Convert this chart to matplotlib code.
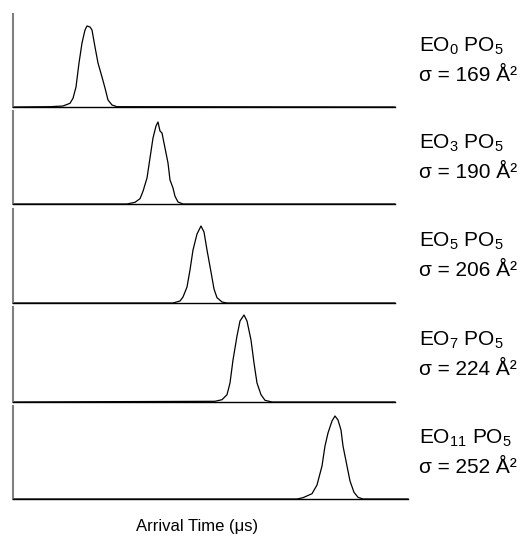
# Stacked arrival time distributions, EOn PO5 series

import matplotlib.pyplot as plt

plt.rcParams['font.family'] = ['Liberation Sans', 'DejaVu Sans']
plt.rcParams['mathtext.fontset'] = 'custom'
plt.rcParams['mathtext.rm'] = 'Liberation Sans'

# labels
names = ['EO$_{0}$ PO$_{5}$', 'EO$_{3}$ PO$_{5}$', 'EO$_{5}$ PO$_{5}$',
         'EO$_{7}$ PO$_{5}$', 'EO$_{11}$ PO$_{5}$']
sigmas = [169, 190, 206, 224, 252]

# arrival time (arbitrary units) and intensity
t1 = [13, 50, 63, 70, 73, 76, 79, 82, 85, 87, 90, 92, 95, 98, 102, 105, 108, 112, 117, 395]
i1 = [0, 0.3, 1.0, 3.7, 8.7, 20, 44, 64, 77, 81, 80, 77, 60, 44, 30, 19, 7, 2, 0.3, 0]

t2 = [13, 127, 135, 140, 143, 147, 150, 153, 156, 158, 160, 162, 165, 168, 170, 173, 175, 178, 183, 395]
i2 = [0, 0, 1.7, 5.3, 12.7, 26, 46, 66, 78, 82, 73, 71, 56, 41, 24, 16, 7.7, 2, 0, 0]

t3 = [13, 173, 180, 183, 187, 190, 193, 197, 201, 204, 207, 211, 214, 217, 222, 227, 395]
i3 = [0, 0, 2, 6, 16, 33, 53, 69, 77, 71, 53, 31, 14, 5.3, 1, 0, 0]

t4 = [13, 215, 222, 227, 230, 233, 237, 240, 244, 247, 251, 254, 257, 261, 265, 272, 395]
i4 = [0, 0.7, 2.3, 7.3, 19, 42, 66, 81, 87, 81, 62, 39, 19, 7.3, 1.7, 0, 0]

t5 = [13, 297, 303, 312, 317, 322, 325, 328, 332, 335, 338, 341, 343, 347, 350, 354, 358, 363, 408]
i5 = [0, 0, 1.3, 5.3, 14, 33, 53, 66, 78, 83, 79, 69, 53, 33, 18, 6.7, 1.7, 0, 0]

times = [t1, t2, t3, t4, t5]
intens = [i1, i2, i3, i4, i5]

W, H = 523, 537
left = 12.7
tops = [14, 111, 209, 307, 406]
bottoms = [107, 204, 303, 402, 499]
rights = [395, 395, 395, 395, 408]

fig = plt.figure(figsize=(W / 100, H / 100), dpi=100)

for k in range(5):
    h = bottoms[k] - tops[k]
    ax = fig.add_axes([left / W, 1 - bottoms[k] / H, (rights[k] - left) / W, h / H])
    ax.plot(times[k], intens[k], color='black', lw=0.9, clip_on=False)
    ax.set_xlim(left, rights[k])
    ax.set_ylim(0, h)
    ax.spines['top'].set_visible(False)
    ax.spines['right'].set_visible(False)
    ax.spines['left'].set_color('#808080')
    ax.spines['left'].set_linewidth(1.5)
    ax.spines['bottom'].set_color('black')
    ax.spines['bottom'].set_linewidth(1.0)
    ax.set_xticks([])
    ax.set_yticks([])
    ax.patch.set_alpha(0)

    mid = (tops[k] + bottoms[k]) / 2
    fig.text(419 / W, 1 - (mid - 14.5) / H, names[k], fontsize=15,
             ha='left', va='center')
    fig.text(419 / W, 1 - (mid + 15) / H, f'σ = {sigmas[k]} Å²', fontsize=15,
             ha='left', va='center')

fig.text(197 / W, 1 - 526 / H, 'Arrival Time (μs)', fontsize=12,
         ha='center', va='center')

fig.savefig('out.png', dpi=100)
